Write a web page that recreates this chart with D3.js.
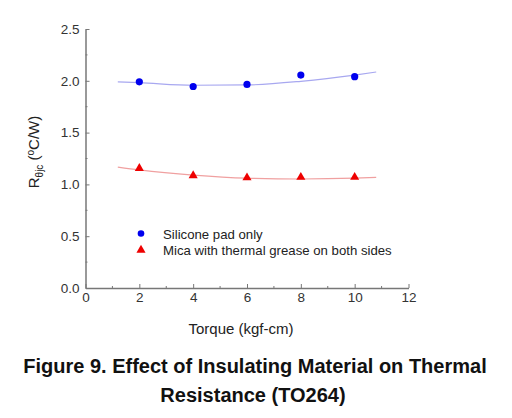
<!DOCTYPE html>
<html>
<head>
<meta charset="utf-8">
<script src="https://cdn.jsdelivr.net/npm/d3@7"></script>
<style>
body { margin: 0; background: #fff; }
svg { font-family: "Liberation Sans", Arial, sans-serif; }
</style>
</head>
<body>
<svg id="chart" width="512" height="418"></svg>
<script>
// measured points
const torque = [2, 4, 6, 8, 10];
const siliconePad = [1.99, 1.945, 1.965, 2.055, 2.04];
const micaGrease = [1.15, 1.08, 1.06, 1.065, 1.065];

// fitted trend lines
const fitX = [1.2, 2, 4, 6, 8, 10, 10.8];
const siliconeFit = [1.99, 1.982, 1.957, 1.96, 1.995, 2.055, 2.085];
const micaFit = [1.167, 1.14, 1.09, 1.06, 1.052, 1.06, 1.068];

const xTicks = [0, 2, 4, 6, 8, 10, 12];
const yTicks = [0.0, 0.5, 1.0, 1.5, 2.0, 2.5];

const legendNames = ["Silicone pad only", "Mica with thermal grease on both sides"];

let svg = d3.select("#chart");
let plotL = 85.5, plotR = 408.5, plotT = 29, plotB = 288;

let x = d3.scaleLinear().domain([0, 12]).range([plotL, plotR]);
let y = d3.scaleLinear().domain([0, 2.5]).range([plotB, plotT]);

let axisCol = "#777";

// axes
let xAxis = svg.append("g").attr("transform", "translate(0," + plotB + ")")
    .call(d3.axisBottom(x).tickValues(xTicks).tickSize(-4).tickPadding(4).tickSizeOuter(0).tickFormat(d3.format("d")));
xAxis.append("g").selectAll("line")
    .data([1, 3, 5, 7, 9, 11])
    .join("line")
    .attr("x1", d => x(d)).attr("x2", d => x(d))
    .attr("y1", 0).attr("y2", -2)
    .attr("stroke", axisCol);

let yAxis = svg.append("g").attr("transform", "translate(" + plotL + ",0)")
    .call(d3.axisLeft(y).tickValues(yTicks).tickSize(-4).tickPadding(6).tickSizeOuter(0).tickFormat(d3.format(".1f")));
yAxis.append("g").selectAll("line")
    .data([0.25, 0.75, 1.25, 1.75, 2.25])
    .join("line")
    .attr("y1", d => y(d)).attr("y2", d => y(d))
    .attr("x1", 0).attr("x2", 2)
    .attr("stroke", axisCol);

svg.selectAll(".domain").attr("stroke", axisCol).attr("stroke-width", 1.5);
svg.selectAll(".tick line").attr("stroke", axisCol);
svg.selectAll(".tick text").attr("font-size", 13.5).attr("fill", "#333")
    .attr("font-family", "'Liberation Sans', Arial, sans-serif");

// fit lines
let line = d3.line().x(d => x(d[0])).y(d => y(d[1])).curve(d3.curveMonotoneX);
svg.append("path")
    .attr("d", line(fitX.map((d, i) => [d, siliconeFit[i]])))
    .attr("fill", "none").attr("stroke", "#a8a8f0").attr("stroke-width", 1.2);
svg.append("path")
    .attr("d", line(fitX.map((d, i) => [d, micaFit[i]])))
    .attr("fill", "none").attr("stroke", "#f0a0a0").attr("stroke-width", 1.2);

// markers
svg.append("g").selectAll("circle")
    .data(torque)
    .join("circle")
    .attr("cx", d => x(d))
    .attr("cy", (d, i) => y(siliconePad[i]))
    .attr("r", 3.6)
    .attr("fill", "#0000ee");

let tri = d3.symbol().type(d3.symbolTriangle).size(36);
svg.append("g").selectAll("path")
    .data(torque)
    .join("path")
    .attr("d", tri)
    .attr("transform", (d, i) => "translate(" + x(d) + "," + (y(micaGrease[i]) - 0.5) + ")")
    .attr("fill", "#ee0000");

// legend
let legend = svg.append("g");
legend.append("circle").attr("cx", 141).attr("cy", 233.5).attr("r", 3.3).attr("fill", "#0000ee");
legend.append("path").attr("d", tri).attr("transform", "translate(141,250)").attr("fill", "#ee0000");
legend.selectAll("text")
    .data(legendNames)
    .join("text")
    .attr("x", 163)
    .attr("y", (d, i) => 238.5 + i * 16.5)
    .attr("font-size", 13.2)
    .attr("fill", "#222")
    .text(d => d);

// axis titles
svg.append("text")
    .attr("x", x(6) - 6).attr("y", 334)
    .attr("text-anchor", "middle")
    .attr("font-size", 15).attr("fill", "#222")
    .text("Torque (kgf-cm)");

let yt = svg.append("text")
    .attr("transform", "translate(39,152) rotate(-90)")
    .attr("text-anchor", "middle")
    .attr("font-size", 15).attr("fill", "#222");
yt.append("tspan").text("R");
yt.append("tspan").attr("font-size", 10).attr("dy", 4).text("θjc");
yt.append("tspan").attr("dy", -4).text(" (");
yt.append("tspan").attr("font-size", 10).attr("dy", -5).text("o");
yt.append("tspan").attr("dy", 5).text("C/W)");

// caption
let cap = svg.append("text")
    .attr("text-anchor", "middle")
    .attr("font-size", 20).attr("font-weight", "bold").attr("fill", "#111");
cap.append("tspan").attr("x", 255).attr("y", 373).text("Figure 9. Effect of Insulating Material on Thermal");
cap.append("tspan").attr("x", 253).attr("y", 401.5).text("Resistance (TO264)");
</script>
</body>
</html>
